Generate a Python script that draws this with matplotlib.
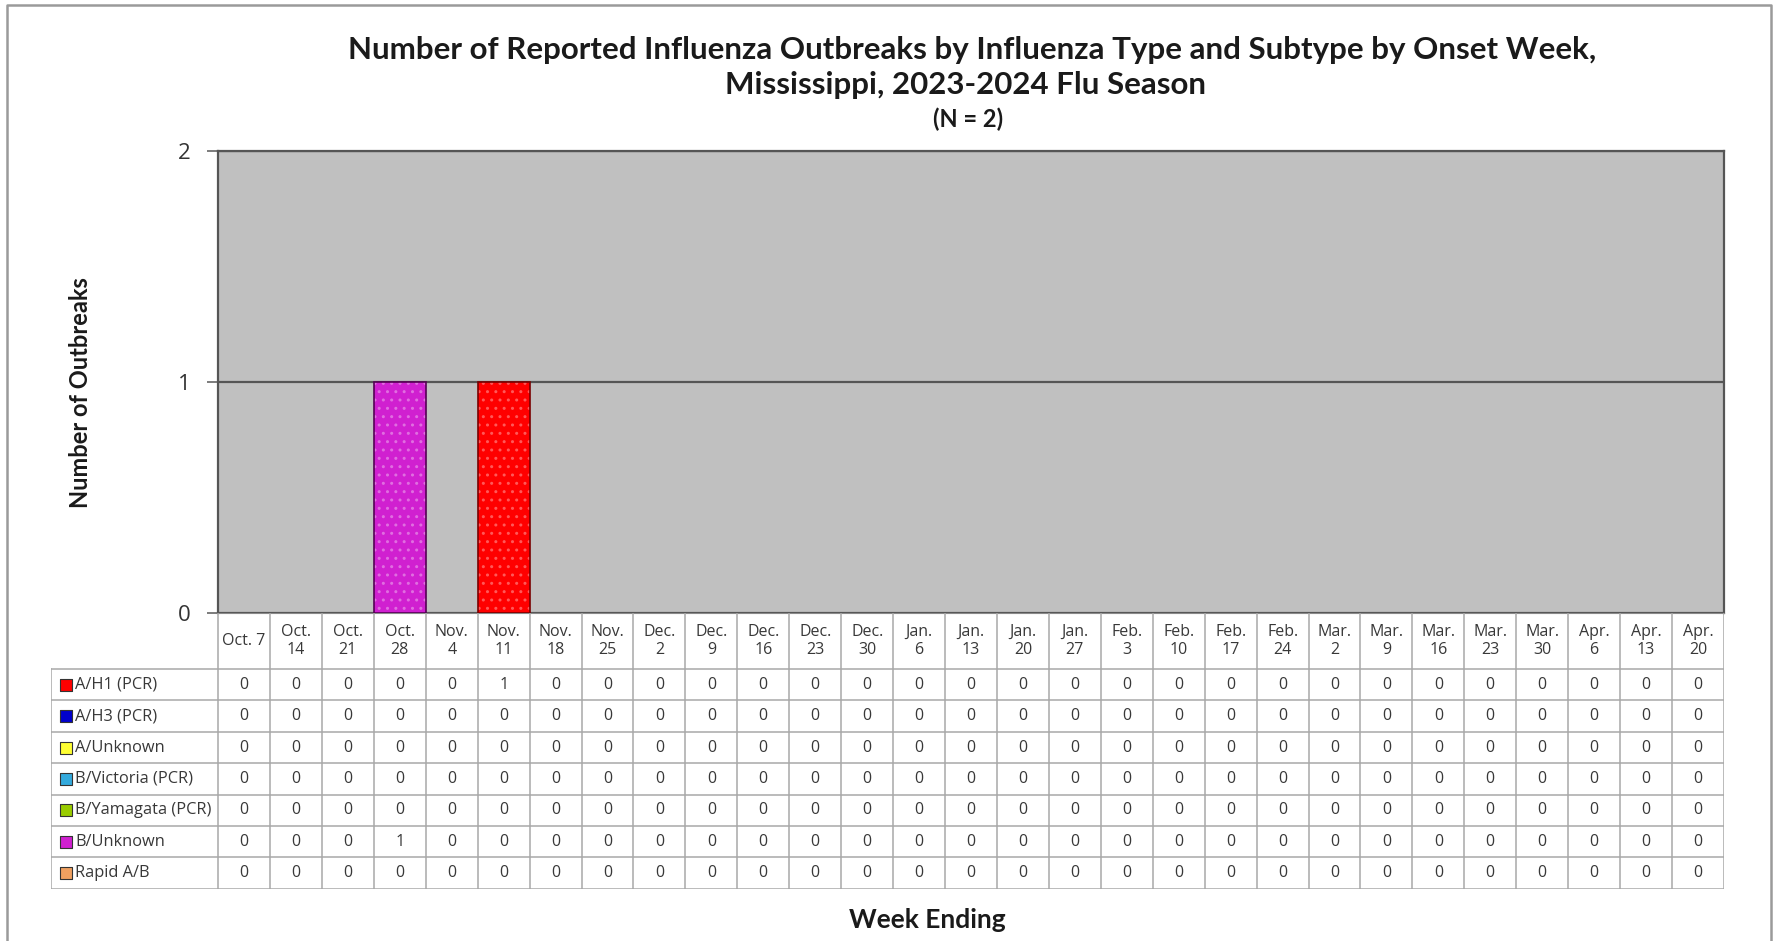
import matplotlib
matplotlib.use("Agg")
import matplotlib.pyplot as plt
import matplotlib.colors as mcolors
from matplotlib.lines import Line2D

# Week ending labels (table header)
weeks = ["Oct. 7", "Oct.\n14", "Oct.\n21", "Oct.\n28", "Nov.\n4", "Nov.\n11", "Nov.\n18",
         "Nov.\n25", "Dec.\n2", "Dec.\n9", "Dec.\n16", "Dec.\n23", "Dec.\n30", "Jan.\n6",
         "Jan.\n13", "Jan.\n20", "Jan.\n27", "Feb.\n3", "Feb.\n10", "Feb.\n17", "Feb.\n24",
         "Mar.\n2", "Mar.\n9", "Mar.\n16", "Mar.\n23", "Mar.\n30", "Apr.\n6", "Apr.\n13",
         "Apr.\n20"]

series_names = ["A/H1 (PCR)", "A/H3 (PCR)", "A/Unknown", "B/Victoria (PCR)",
                "B/Yamagata (PCR)", "B/Unknown", "Rapid A/B"]

a_h1 =       [0, 0, 0, 0, 0, 1, 0, 0, 0, 0, 0, 0, 0, 0, 0, 0, 0, 0, 0, 0, 0, 0, 0, 0, 0, 0, 0, 0, 0]
a_h3 =       [0, 0, 0, 0, 0, 0, 0, 0, 0, 0, 0, 0, 0, 0, 0, 0, 0, 0, 0, 0, 0, 0, 0, 0, 0, 0, 0, 0, 0]
a_unknown =  [0, 0, 0, 0, 0, 0, 0, 0, 0, 0, 0, 0, 0, 0, 0, 0, 0, 0, 0, 0, 0, 0, 0, 0, 0, 0, 0, 0, 0]
b_victoria = [0, 0, 0, 0, 0, 0, 0, 0, 0, 0, 0, 0, 0, 0, 0, 0, 0, 0, 0, 0, 0, 0, 0, 0, 0, 0, 0, 0, 0]
b_yamagata = [0, 0, 0, 0, 0, 0, 0, 0, 0, 0, 0, 0, 0, 0, 0, 0, 0, 0, 0, 0, 0, 0, 0, 0, 0, 0, 0, 0, 0]
b_unknown =  [0, 0, 0, 1, 0, 0, 0, 0, 0, 0, 0, 0, 0, 0, 0, 0, 0, 0, 0, 0, 0, 0, 0, 0, 0, 0, 0, 0, 0]
rapid_ab =   [0, 0, 0, 0, 0, 0, 0, 0, 0, 0, 0, 0, 0, 0, 0, 0, 0, 0, 0, 0, 0, 0, 0, 0, 0, 0, 0, 0, 0]

series_values = [a_h1, a_h3, a_unknown, b_victoria, b_yamagata, b_unknown, rapid_ab]
series_colors = ["#FF0000", "#0000CC", "#FFFF33", "#33AADD", "#99CC00", "#D020D0", "#F0A060"]
edge_colors = ["#7A0000", "#000066", "#666600", "#115577", "#445500", "#550055", "#804020"]

W, H = 1777, 941
def fx(px):
    return px / W
def fy(py):
    return 1 - py / H

def lighter(c, amt=0.35):
    r, g, b = mcolors.to_rgb(c)
    return (r + (1 - r) * amt, g + (1 - g) * amt, b + (1 - b) * amt)

body_font = "Open Sans"
head_font = "Lato"

fig = plt.figure(figsize=(W / 100, H / 100), dpi=100)

# main chart
ax = fig.add_axes([fx(218), fy(613), fx(1724) - fx(218), fy(151) - fy(613)])
ax.set_facecolor("#C0C0C0")
n = len(weeks)
bottom = [0] * n
for vals, col, edge in zip(series_values, series_colors, edge_colors):
    xs = [i for i in range(n) if vals[i] > 0]
    hs = [vals[i] for i in xs]
    bs = [bottom[i] for i in xs]
    if xs:
        ax.bar(xs, hs, bottom=bs, width=1.0, color=col, edgecolor=lighter(col), hatch="..",
               linewidth=0, zorder=3)
        ax.bar(xs, hs, bottom=bs, width=1.0, fill=False, edgecolor=edge, linewidth=1.2, zorder=4)
    bottom = [bottom[i] + vals[i] for i in range(n)]

ax.set_xlim(-0.5, n - 0.5)
ax.set_ylim(0, 2)
ax.set_yticks([0, 1, 2])
ax.set_xticks([])
ax.yaxis.grid(True, color="#555555", linewidth=1.6)
ax.set_axisbelow(True)
for s in ["left", "right", "top"]:
    ax.spines[s].set_color("#555555")
    ax.spines[s].set_linewidth(1.6)
ax.spines["bottom"].set_color("#8a8a8a")
ax.tick_params(axis="y", length=8, width=1.2, color="#666666", pad=12,
               labelsize=16, labelcolor="#333333")
for lbl in ax.get_yticklabels():
    lbl.set_fontfamily(body_font)

# data table under the chart
leg_w = (218 - 51) / ((1724 - 218) / n)
header_h = 56
row_h = 31.4
tab_h = header_h + row_h * len(series_names)
ax_t = fig.add_axes([fx(51), fy(613 + tab_h), fx(1724) - fx(51), fy(613) - fy(613 + tab_h)])
ax_t.set_xlim(-0.5 - leg_w, n - 0.5)
ax_t.set_ylim(tab_h, 0)
ax_t.axis("off")
grid_c = "#A8A8A8"
for i in range(n + 1):
    ax_t.plot([i - 0.5, i - 0.5], [0, tab_h], color=grid_c, linewidth=1.1)
ax_t.plot([-0.5 - leg_w, -0.5 - leg_w], [header_h, tab_h], color=grid_c, linewidth=1.1)
for k in range(len(series_names) + 1):
    y = header_h + k * row_h
    ax_t.plot([-0.5 - leg_w, n - 0.5], [y, y], color=grid_c, linewidth=1.1)

for i, wk in enumerate(weeks):
    ax_t.text(i, header_h / 2, wk, ha="center", va="center", fontsize=11.5,
              color="#383838", family=body_font, linespacing=1.15)

for k, (name, vals, col) in enumerate(zip(series_names, series_values, series_colors)):
    yc = header_h + (k + 0.5) * row_h
    ax_t.scatter([-0.5 - leg_w + 0.28], [yc], marker="s", s=70, color=col,
                 edgecolor="#333333", linewidth=0.8, zorder=3)
    ax_t.text(-0.5 - leg_w + 0.47, yc, name, ha="left", va="center", fontsize=11.8,
              color="#383838", family=body_font)
    for i, v in enumerate(vals):
        ax_t.text(i, yc, str(v), ha="center", va="center", fontsize=11.5,
                  color="#383838", family=body_font)

# titles and axis labels
fig.text(fx(972), fy(50), "Number of Reported Influenza Outbreaks by Influenza Type and Subtype by Onset Week,",
         ha="center", va="center", fontsize=22.5, fontweight="bold", family=head_font, color="#1a1a1a")
fig.text(fx(965), fy(85), "Mississippi, 2023-2024 Flu Season",
         ha="center", va="center", fontsize=22.5, fontweight="bold", family=head_font, color="#1a1a1a")
fig.text(fx(968), fy(119), "(N = 2)",
         ha="center", va="center", fontsize=17, fontweight="bold", family=head_font, color="#1a1a1a")
fig.text(fx(80), fy(393), "Number of Outbreaks", rotation=90, ha="center", va="center",
         fontsize=17, fontweight="bold", family=head_font, color="#1a1a1a")
fig.text(fx(927), fy(920), "Week Ending", ha="center", va="center",
         fontsize=19, fontweight="bold", family=head_font, color="#1a1a1a")

# outer frame
fig.add_artist(Line2D([fx(7), fx(7), fx(1771), fx(1771)], [0, fy(5), fy(5), 0],
                      color="#9a9a9a", linewidth=1.8, transform=fig.transFigure))

fig.savefig("out.png", dpi=100, facecolor="white")
